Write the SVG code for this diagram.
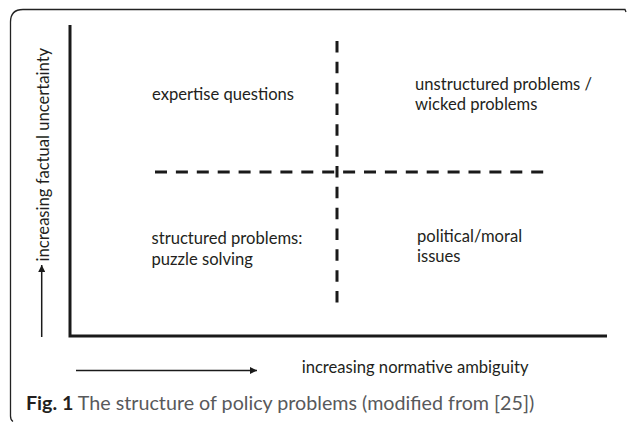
<svg xmlns="http://www.w3.org/2000/svg" width="627" height="423" viewBox="0 0 627 423">
<style>
.t{font-family:Lato,"Open Sans","Liberation Sans",sans-serif;font-size:16.6px;fill:#231f20}
.cap{font-family:Lato,"Open Sans","Liberation Sans",sans-serif;font-size:19.7px;fill:#58595b}
.axis{stroke:#1a1a1a;stroke-width:3;fill:none}
.dash{stroke:#1a1a1a;stroke-width:3;fill:none}
.arr{stroke:#1a1a1a;stroke-width:1.5;fill:none}
</style>
<defs>
<marker id="ah" viewBox="0 0 10 10" refX="10" refY="5" markerWidth="7" markerHeight="7" markerUnits="userSpaceOnUse" orient="auto">
<path d="M0,0 L10,5 L0,10 Z" fill="#1a1a1a"/>
</marker>
</defs>
<rect width="627" height="423" fill="#ffffff"/>
<path d="M13,421.5 Q10.5,420 10.5,416 L10.5,22 Q10.5,9.5 23,9.5 L625,9.5 L626,12" fill="none" stroke="#222" stroke-width="1.3"/>
<g id="axes">
<path class="axis" d="M70,25 L70,337.5 M68.5,336 L607,336"/>
</g>
<g id="connectors">
<path class="dash" d="M155,172 L545,172" stroke-dasharray="12 8.9"/>
<path class="dash" d="M337,41 L337,303" stroke-dasharray="11.5 9.33"/>
<path class="arr" d="M41.7,337 L41.7,265" marker-end="url(#ah)"/>
<path class="arr" d="M76,370.5 L257,370.5" marker-end="url(#ah)"/>
</g>
<g id="n-expertise"><text class="t" x="152" y="100">expertise questions</text></g>
<g id="n-unstructured"><text class="t" x="415" y="89.5">unstructured problems /</text><text class="t" x="415" y="110">wicked problems</text></g>
<g id="n-structured"><text class="t" x="151.5" y="244">structured problems:</text><text class="t" x="151.5" y="264.5">puzzle solving</text></g>
<g id="n-political"><text class="t" x="417" y="241.5">political/moral</text><text class="t" x="417" y="262">issues</text></g>
<g id="label-y"><text class="t" transform="translate(49.3,261.5) rotate(-90)">increasing factual uncertainty</text></g>
<g id="label-x"><text class="t" x="301.7" y="372.5">increasing normative ambiguity</text></g>
<g id="caption"><text class="cap" x="26" y="410"><tspan font-weight="bold" fill="#231f20">Fig. 1</tspan> The structure of policy problems (modified from [25])</text></g>
</svg>
